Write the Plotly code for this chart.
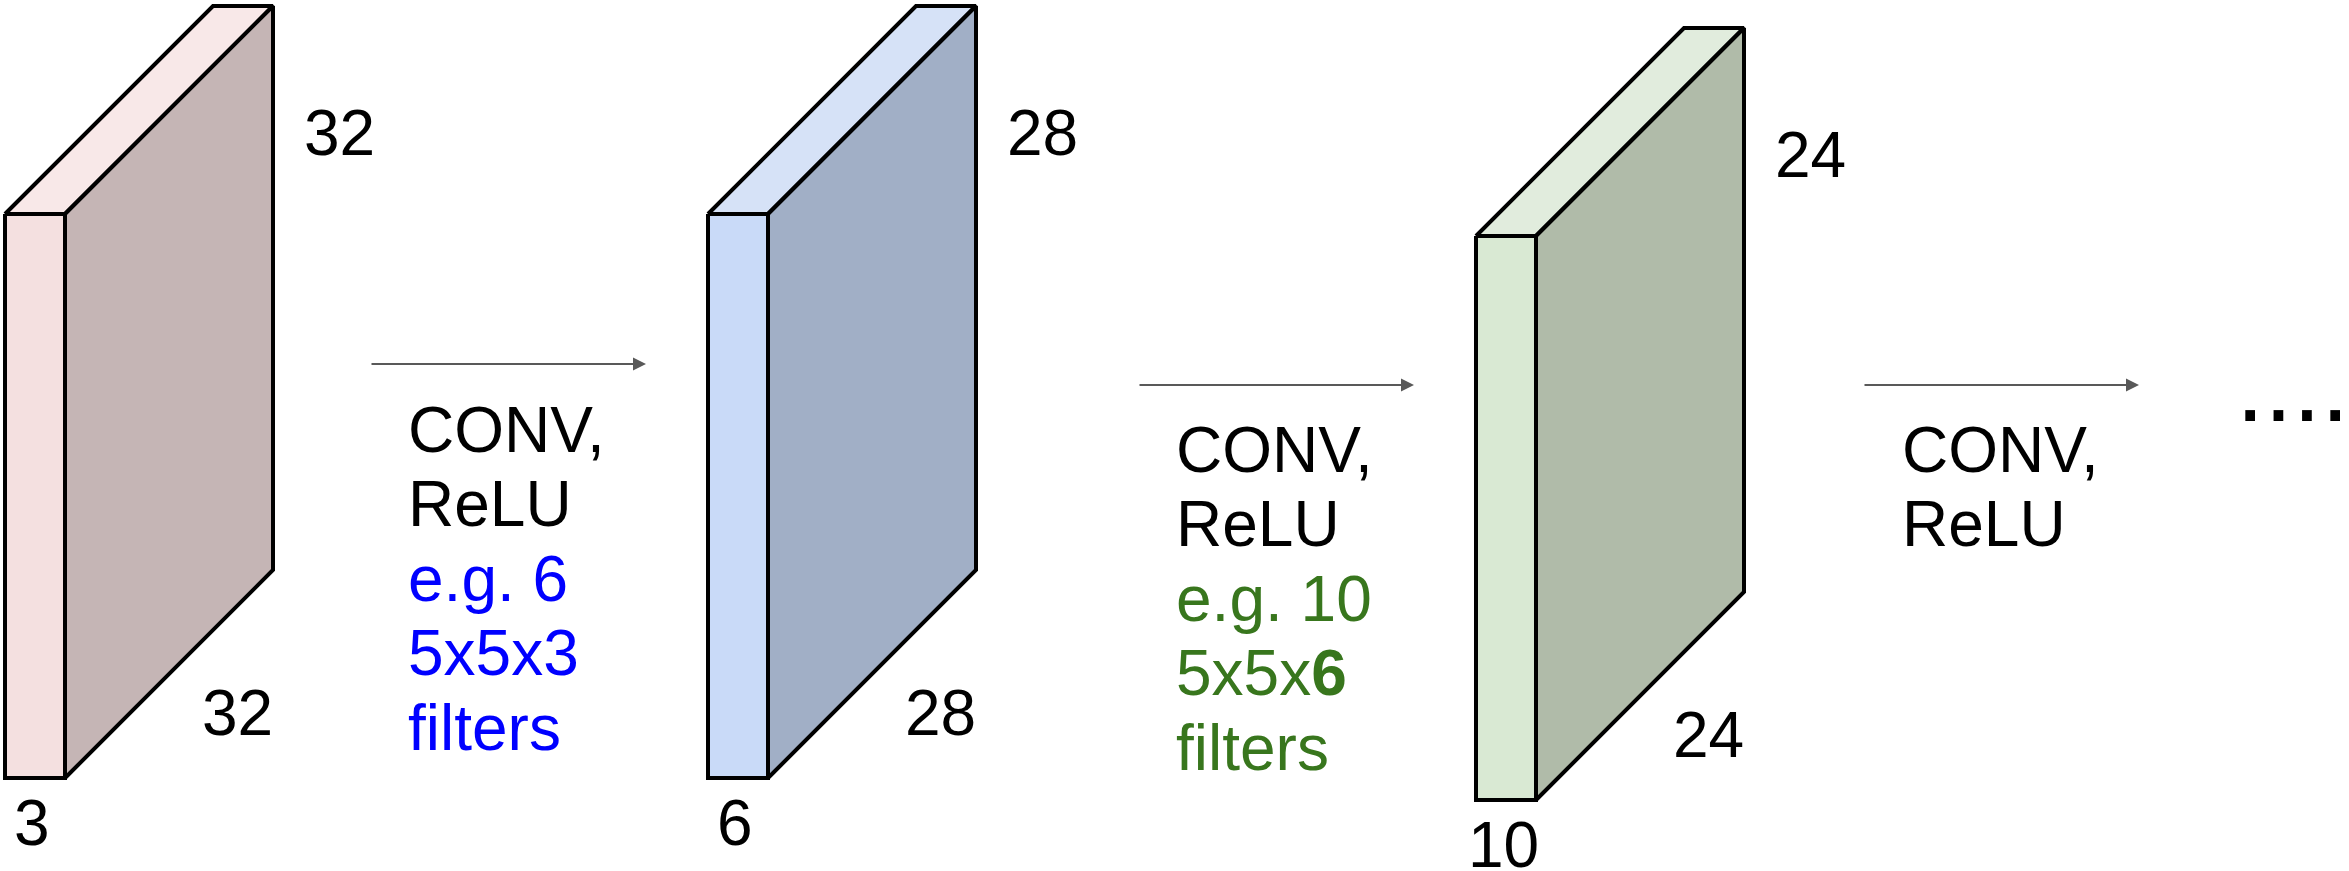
import plotly.graph_objects as oGraph

# activation volumes: spatial size (width = height) and depth
spatial_sizes = [32, 28, 24]
depths = [3, 6, 10]

# text written under each arrow
op_lines = [
    ['CONV,', 'ReLU', 'e.g. 6', '5x5x3', 'filters'],
    ['CONV,', 'ReLU', 'e.g. 10', '5x5x<b>6</b>', 'filters'],
    ['CONV,', 'ReLU'],
]
op_colors = [
    ['black', 'black', '#0000ff', '#0000ff', '#0000ff'],
    ['black', 'black', '#38761d', '#38761d', '#38761d'],
    ['black', 'black'],
]
continuation = '....'

# page geometry (pixels)
W, H = 2349, 871
FONT = 'Liberation Sans, Arial, sans-serif'
FS = 64

block_left = [5, 708, 1476]
block_top = [214, 214, 236]
front_w = 60
front_h = 564
skew = 208
face_colors = [
    ('#f4e0e0', '#f8e8e8', '#c5b5b5'),
    ('#c9daf8', '#d6e2f7', '#a1afc6'),
    ('#d9e9d3', '#e1ecdd', '#b0bba9'),
]

arrow_start = [370, 1138, 1863]
arrow_y = [364, 385, 385]
arrow_len = 276
text_left = [406, 1174, 1900]
text_base = [453, 473, 473]
line_step = 74.6


def polygon(fig, xs, ys, color):
    fig.add_trace(oGraph.Scatter(
        x=xs + xs[:1], y=ys + ys[:1], mode='lines', fill='toself',
        fillcolor=color, line=dict(color='black', width=4),
        hoverinfo='skip', showlegend=False))


def text_at(fig, x, baseline, txt, color='black', size=FS, xanchor='left', from_top=False):
    # place text by its baseline; anchoring at the top keeps the anchor
    # inside the axis range for labels that sit at the bottom edge
    if from_top:
        y, yanchor = baseline - 0.905 * size - 1, 'top'
    else:
        y, yanchor = baseline + 0.212 * size + 1, 'bottom'
    fig.add_annotation(
        x=x, y=y, xref='x', yref='y', text=txt,
        showarrow=False, xanchor=xanchor, yanchor=yanchor,
        font=dict(family=FONT, size=size, color=color))


def draw_block(fig, i):
    x0, y0 = block_left[i], block_top[i]
    x1, y1 = x0 + front_w, y0 + front_h
    front, top, side = face_colors[i]
    polygon(fig, [x0, x1, x1, x0], [y0, y0, y1, y1], front)
    polygon(fig, [x0, x1, x1 + skew, x0 + skew], [y0, y0, y0 - skew, y0 - skew], top)
    polygon(fig, [x1, x1 + skew, x1 + skew, x1], [y0, y0 - skew, y1 - skew, y1], side)
    text_at(fig, x1 + skew + 66, y0 - skew + 150, str(spatial_sizes[i]), xanchor='center')
    text_at(fig, x1 + 172, y1 - 42, str(spatial_sizes[i]), xanchor='center')
    text_at(fig, x0 + 27, y1 + 66, str(depths[i]), xanchor='center', from_top=True)


fig = oGraph.Figure()
for i in range(len(spatial_sizes)):
    draw_block(fig, i)

for i, lines in enumerate(op_lines):
    fig.add_annotation(
        x=arrow_start[i] + arrow_len, y=arrow_y[i], ax=arrow_start[i], ay=arrow_y[i],
        xref='x', yref='y', axref='x', ayref='y', text='', showarrow=True,
        arrowhead=2, arrowsize=1.3, arrowwidth=2, arrowcolor='#595959')
    for j, line in enumerate(lines):
        text_at(fig, text_left[i], text_base[i] + j * line_step, line, op_colors[i][j])

text_at(fig, 2234, 422, continuation, size=102)

fig.update_layout(
    width=W, height=H,
    margin=dict(l=0, r=0, t=0, b=0),
    paper_bgcolor='white', plot_bgcolor='white',
    xaxis=dict(range=[0, W], visible=False, fixedrange=True),
    yaxis=dict(range=[H, 0], visible=False, fixedrange=True),
    showlegend=False,
)
# drop the browser's default 8px body margin so the page maps 1:1
fig.write_html('out.html', config={'displayModeBar': False},
               post_script="document.body.style.margin='0';")
